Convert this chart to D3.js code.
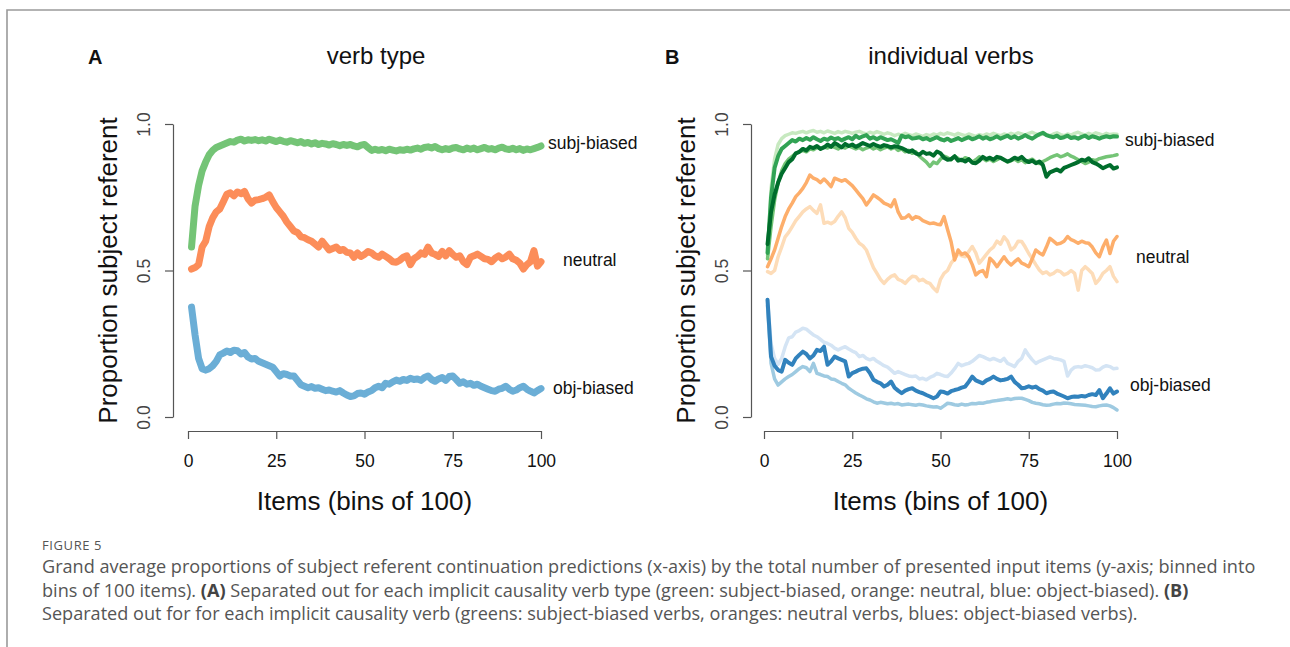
<!DOCTYPE html>
<html><head><meta charset="utf-8">
<script src="https://cdn.jsdelivr.net/npm/d3@7"></script>
<style>body{margin:0;background:#fff}svg{display:block}</style>
</head><body>
<script>
// ---------- DATA ----------
const bins = d3.range(1, 101);
const xTicks = [0, 25, 50, 75, 100];
const yTicks = [0, 0.5, 1];
const seriesLabels = ["subj-biased", "neutral", "obj-biased"];

// Panel A: verb type averages
const aSubj = [0.58,0.72,0.79,0.84,0.87,0.895,0.91,0.92,0.925,0.93,0.935,0.94,0.938,0.945,0.948,0.942,0.946,0.944,0.947,0.943,0.946,0.942,0.948,0.944,0.94,0.945,0.941,0.938,0.943,0.94,0.936,0.94,0.934,0.937,0.932,0.936,0.93,0.934,0.932,0.928,0.933,0.93,0.926,0.93,0.927,0.93,0.925,0.922,0.928,0.93,0.92,0.91,0.914,0.91,0.913,0.909,0.914,0.911,0.908,0.912,0.91,0.914,0.911,0.915,0.918,0.914,0.92,0.922,0.918,0.923,0.916,0.912,0.916,0.913,0.918,0.92,0.915,0.912,0.918,0.914,0.918,0.912,0.916,0.92,0.914,0.916,0.912,0.918,0.921,0.915,0.913,0.917,0.912,0.916,0.91,0.915,0.912,0.916,0.92,0.925];
const aNeut = [0.505,0.51,0.52,0.58,0.6,0.65,0.68,0.7,0.71,0.735,0.76,0.765,0.755,0.768,0.762,0.77,0.745,0.73,0.74,0.742,0.745,0.75,0.758,0.735,0.715,0.7,0.685,0.665,0.65,0.635,0.63,0.615,0.612,0.605,0.6,0.59,0.58,0.6,0.585,0.57,0.575,0.58,0.568,0.572,0.562,0.56,0.545,0.56,0.548,0.555,0.565,0.56,0.55,0.545,0.556,0.548,0.54,0.53,0.528,0.535,0.545,0.55,0.52,0.54,0.548,0.56,0.555,0.58,0.56,0.555,0.548,0.565,0.55,0.568,0.555,0.545,0.55,0.53,0.52,0.545,0.55,0.556,0.548,0.54,0.538,0.53,0.542,0.55,0.54,0.546,0.556,0.54,0.535,0.525,0.505,0.52,0.53,0.568,0.515,0.53];
const aObj = [0.375,0.28,0.2,0.165,0.16,0.165,0.175,0.19,0.212,0.218,0.225,0.22,0.228,0.226,0.215,0.22,0.205,0.198,0.2,0.19,0.185,0.18,0.175,0.17,0.155,0.14,0.148,0.145,0.14,0.14,0.125,0.11,0.105,0.1,0.104,0.098,0.1,0.095,0.09,0.092,0.088,0.085,0.09,0.082,0.075,0.07,0.072,0.08,0.082,0.078,0.085,0.09,0.1,0.105,0.1,0.115,0.112,0.12,0.126,0.122,0.128,0.125,0.132,0.128,0.13,0.125,0.135,0.14,0.128,0.122,0.13,0.135,0.125,0.138,0.14,0.128,0.115,0.12,0.112,0.115,0.108,0.112,0.105,0.1,0.095,0.09,0.088,0.095,0.098,0.105,0.095,0.088,0.092,0.1,0.105,0.095,0.088,0.082,0.09,0.097];

// Panel B: individual verbs
const bSubj1 = [0.55,0.78,0.88,0.93,0.95,0.96,0.965,0.97,0.968,0.972,0.975,0.97,0.975,0.978,0.972,0.975,0.97,0.976,0.972,0.968,0.974,0.97,0.975,0.972,0.968,0.972,0.975,0.97,0.966,0.972,0.968,0.974,0.97,0.965,0.97,0.966,0.96,0.965,0.962,0.968,0.964,0.96,0.966,0.962,0.958,0.964,0.96,0.966,0.962,0.968,0.964,0.97,0.966,0.962,0.968,0.964,0.96,0.966,0.962,0.958,0.964,0.96,0.966,0.962,0.968,0.964,0.96,0.966,0.962,0.968,0.964,0.97,0.966,0.962,0.968,0.972,0.966,0.962,0.968,0.964,0.96,0.966,0.97,0.964,0.96,0.966,0.962,0.968,0.972,0.966,0.962,0.968,0.964,0.97,0.966,0.962,0.968,0.964,0.966,0.965];
const bSubj2 = [0.56,0.75,0.85,0.89,0.915,0.925,0.935,0.945,0.94,0.95,0.945,0.952,0.946,0.955,0.948,0.942,0.95,0.946,0.954,0.948,0.952,0.944,0.95,0.955,0.948,0.96,0.952,0.958,0.962,0.95,0.955,0.948,0.955,0.95,0.945,0.948,0.942,0.935,0.96,0.955,0.958,0.95,0.952,0.955,0.948,0.952,0.945,0.95,0.955,0.948,0.944,0.95,0.942,0.947,0.952,0.945,0.95,0.955,0.948,0.952,0.958,0.95,0.955,0.948,0.952,0.958,0.95,0.955,0.96,0.952,0.958,0.95,0.955,0.962,0.955,0.95,0.958,0.965,0.97,0.962,0.958,0.955,0.96,0.952,0.955,0.96,0.952,0.955,0.95,0.956,0.96,0.952,0.958,0.955,0.95,0.955,0.958,0.955,0.958,0.957];
const bSubj3 = [0.54,0.65,0.74,0.8,0.84,0.865,0.88,0.89,0.9,0.905,0.91,0.905,0.915,0.912,0.92,0.915,0.922,0.918,0.925,0.92,0.915,0.922,0.918,0.925,0.92,0.915,0.92,0.912,0.918,0.922,0.915,0.92,0.912,0.918,0.922,0.915,0.92,0.91,0.915,0.905,0.91,0.9,0.905,0.89,0.88,0.87,0.855,0.87,0.865,0.88,0.89,0.885,0.878,0.89,0.882,0.875,0.885,0.88,0.87,0.878,0.888,0.882,0.875,0.88,0.872,0.878,0.885,0.878,0.87,0.875,0.88,0.872,0.878,0.868,0.875,0.88,0.87,0.865,0.872,0.878,0.885,0.89,0.895,0.888,0.892,0.898,0.89,0.885,0.878,0.872,0.865,0.87,0.878,0.875,0.882,0.885,0.888,0.89,0.892,0.895];
const bSubj4 = [0.59,0.7,0.76,0.8,0.83,0.85,0.87,0.88,0.9,0.905,0.915,0.91,0.922,0.918,0.925,0.915,0.92,0.93,0.922,0.935,0.928,0.92,0.932,0.925,0.93,0.922,0.928,0.935,0.93,0.925,0.932,0.926,0.922,0.928,0.925,0.92,0.924,0.922,0.918,0.912,0.905,0.91,0.9,0.895,0.905,0.898,0.9,0.892,0.906,0.9,0.885,0.878,0.88,0.89,0.875,0.878,0.872,0.88,0.868,0.866,0.875,0.888,0.88,0.885,0.878,0.888,0.885,0.878,0.872,0.877,0.885,0.88,0.888,0.876,0.87,0.875,0.866,0.872,0.86,0.82,0.835,0.84,0.845,0.838,0.85,0.855,0.86,0.865,0.87,0.878,0.875,0.883,0.87,0.865,0.858,0.849,0.855,0.86,0.848,0.852];
const bNeut1 = [0.496,0.49,0.5,0.547,0.58,0.615,0.63,0.65,0.67,0.685,0.7,0.71,0.718,0.705,0.695,0.724,0.661,0.665,0.66,0.667,0.685,0.7,0.68,0.644,0.63,0.61,0.593,0.585,0.57,0.54,0.51,0.49,0.47,0.456,0.47,0.48,0.485,0.47,0.465,0.456,0.47,0.48,0.479,0.465,0.47,0.46,0.456,0.44,0.428,0.47,0.49,0.5,0.525,0.54,0.559,0.55,0.547,0.565,0.582,0.56,0.525,0.54,0.555,0.57,0.58,0.6,0.59,0.615,0.6,0.57,0.58,0.6,0.599,0.58,0.558,0.54,0.52,0.502,0.49,0.495,0.485,0.49,0.5,0.496,0.485,0.49,0.5,0.49,0.433,0.5,0.513,0.502,0.49,0.456,0.47,0.49,0.5,0.513,0.48,0.462];
const bNeut2 = [0.513,0.54,0.57,0.61,0.65,0.684,0.71,0.73,0.752,0.765,0.78,0.8,0.826,0.815,0.81,0.8,0.812,0.8,0.786,0.815,0.81,0.805,0.81,0.8,0.79,0.775,0.76,0.745,0.724,0.74,0.758,0.75,0.741,0.73,0.725,0.718,0.741,0.7,0.678,0.68,0.69,0.675,0.684,0.68,0.67,0.665,0.66,0.662,0.658,0.656,0.684,0.64,0.598,0.536,0.57,0.555,0.56,0.547,0.52,0.485,0.495,0.5,0.479,0.542,0.53,0.513,0.53,0.547,0.53,0.519,0.53,0.54,0.525,0.52,0.513,0.54,0.57,0.56,0.553,0.58,0.61,0.6,0.59,0.593,0.6,0.616,0.605,0.6,0.593,0.6,0.595,0.593,0.58,0.56,0.547,0.58,0.604,0.558,0.6,0.616];
const bObj1 = [0.4,0.25,0.2,0.18,0.2,0.24,0.27,0.274,0.29,0.295,0.303,0.3,0.29,0.28,0.274,0.265,0.255,0.251,0.245,0.235,0.229,0.235,0.24,0.232,0.225,0.22,0.206,0.21,0.2,0.195,0.2,0.19,0.183,0.175,0.17,0.16,0.149,0.155,0.15,0.145,0.14,0.138,0.14,0.13,0.132,0.127,0.135,0.14,0.149,0.145,0.14,0.138,0.15,0.165,0.183,0.175,0.18,0.183,0.19,0.2,0.21,0.206,0.2,0.195,0.2,0.195,0.19,0.2,0.183,0.178,0.172,0.19,0.2,0.229,0.21,0.195,0.183,0.19,0.195,0.2,0.205,0.2,0.198,0.195,0.19,0.14,0.16,0.17,0.172,0.17,0.175,0.172,0.168,0.16,0.161,0.17,0.175,0.172,0.165,0.166];
const bObj2 = [0.38,0.183,0.13,0.109,0.12,0.13,0.138,0.145,0.155,0.165,0.172,0.168,0.155,0.183,0.149,0.145,0.14,0.138,0.13,0.128,0.121,0.115,0.11,0.098,0.09,0.082,0.075,0.069,0.062,0.058,0.052,0.047,0.05,0.048,0.045,0.047,0.044,0.046,0.041,0.043,0.044,0.042,0.04,0.043,0.041,0.038,0.036,0.034,0.035,0.03,0.038,0.047,0.045,0.042,0.04,0.044,0.041,0.043,0.046,0.045,0.048,0.047,0.05,0.052,0.055,0.056,0.058,0.06,0.062,0.06,0.063,0.064,0.064,0.06,0.056,0.05,0.047,0.045,0.042,0.04,0.041,0.044,0.046,0.045,0.048,0.047,0.045,0.043,0.042,0.041,0.04,0.038,0.036,0.035,0.038,0.04,0.041,0.038,0.032,0.024];
const bObj3 = [0.4,0.206,0.175,0.16,0.155,0.195,0.185,0.178,0.2,0.212,0.223,0.215,0.2,0.21,0.229,0.225,0.24,0.178,0.19,0.206,0.2,0.195,0.19,0.138,0.15,0.155,0.161,0.165,0.166,0.15,0.127,0.12,0.115,0.104,0.11,0.121,0.1,0.09,0.081,0.09,0.095,0.098,0.09,0.085,0.081,0.075,0.07,0.064,0.07,0.087,0.085,0.08,0.088,0.092,0.095,0.1,0.104,0.12,0.138,0.125,0.12,0.115,0.125,0.13,0.138,0.13,0.125,0.127,0.13,0.138,0.12,0.11,0.098,0.1,0.105,0.1,0.104,0.095,0.09,0.081,0.085,0.087,0.08,0.075,0.07,0.064,0.068,0.07,0.069,0.072,0.07,0.075,0.078,0.075,0.092,0.064,0.08,0.098,0.08,0.087];

// ---------- DRAW ----------
const W = 1290, H = 647;
const svg = d3.select("body").append("svg").attr("width", W).attr("height", H);
svg.append("rect").attr("width", W).attr("height", H).attr("fill", "#fff");
svg.append("path").attr("d", `M7,${H} V10 H${W}`).attr("fill","none").attr("stroke","#9a9a9a").attr("stroke-width",1.6);

const FONT = "Liberation Sans, Arial, Helvetica, sans-serif";

function panel(opt) {
  const x = d3.scaleLinear().domain([0, 100]).range([opt.x0, opt.x1]);
  const y = d3.scaleLinear().domain([0, 1]).range([417, 124]);
  const g = svg.append("g").attr("font-family", FONT);

  const xa = g.append("g").attr("transform", "translate(0,431)")
    .call(d3.axisBottom(x).tickValues(xTicks).tickSize(8).tickSizeOuter(0).tickPadding(16));
  xa.selectAll("text").attr("font-size", 17.5).attr("font-family", FONT).attr("fill","#111");
  xa.selectAll("line,path").attr("stroke","#555").attr("stroke-width",1.2);

  const ya = g.append("g").attr("transform", `translate(${opt.yAxisX},0)`)
    .call(d3.axisLeft(y).tickValues(yTicks).tickFormat(d3.format(".1f")).tickSize(8).tickSizeOuter(0));
  ya.selectAll("text").attr("font-size", 17.5).attr("font-family", FONT).attr("fill","#444")
    .attr("transform", "rotate(-90)").attr("x", 0).attr("dx", null).attr("y", -29).attr("dy", "0.35em")
    .attr("text-anchor", "middle");
  ya.selectAll("line,path").attr("stroke","#555").attr("stroke-width",1.2);

  g.append("text").attr("x", (opt.x0 + opt.x1) / 2).attr("y", 510).attr("text-anchor","middle")
    .attr("font-size", 26).attr("fill","#111").text("Items (bins of 100)");
  g.append("text").attr("transform", `translate(${opt.yAxisX - 65},${y(0.5)}) rotate(-90)`)
    .attr("text-anchor","middle").attr("dy","0.35em").attr("font-size", 26).attr("fill","#111")
    .text("Proportion subject referent");

  g.append("text").attr("x", opt.letterX).attr("y", 64).attr("font-size", 20).attr("font-weight","bold")
    .attr("fill","#111").text(opt.letter);
  g.append("text").attr("x", opt.titleX).attr("y", 64).attr("text-anchor","middle").attr("font-size", 24)
    .attr("fill","#111").text(opt.title);

  const line = d3.line().x((d, i) => x(bins[i])).y(d => y(d));
  opt.series.forEach(s => {
    g.append("path").datum(s.values).attr("d", line).attr("fill","none")
      .attr("stroke", s.color).attr("stroke-width", s.width)
      .attr("stroke-linejoin","round").attr("stroke-linecap","round");
  });

  opt.labels.forEach((t, i) => {
    g.append("text").attr("x", opt.labelPos[i][0]).attr("y", opt.labelPos[i][1])
      .attr("font-size", 17.5).attr("fill","#111").text(t);
  });
}

panel({
  x0: 188, x1: 541, yAxisX: 173, letter: "A", letterX: 88, title: "verb type", titleX: 376,
  series: [
    {values: aObj, color: "#6baed6", width: 7},
    {values: aNeut, color: "#fc8d59", width: 7},
    {values: aSubj, color: "#74c476", width: 7}
  ],
  labels: seriesLabels, labelPos: [[548,149],[563,266],[553,394]]
});

panel({
  x0: 764, x1: 1117, yAxisX: 751, letter: "B", letterX: 665, title: "individual verbs", titleX: 951,
  series: [
    {values: bObj1, color: "#d4e4f4", width: 3.5},
    {values: bObj2, color: "#9ecae1", width: 3.5},
    {values: bObj3, color: "#3182bd", width: 4},
    {values: bNeut1, color: "#fddcb8", width: 3.5},
    {values: bNeut2, color: "#fdae6b", width: 3.5},
    {values: bSubj1, color: "#c7e9c0", width: 3.5},
    {values: bSubj3, color: "#74c476", width: 3.5},
    {values: bSubj2, color: "#31a354", width: 4},
    {values: bSubj4, color: "#006d2c", width: 4}
  ],
  labels: seriesLabels, labelPos: [[1125,146],[1136,263],[1130,391]]
});

// caption
const cap = svg.append("g").attr("font-family", "Open Sans, Noto Sans, sans-serif").attr("fill", "#555");
cap.append("text").attr("x", 42).attr("y", 550).attr("font-size", 13).attr("letter-spacing", 0.6).text("FIGURE 5");
const capLines = [
  [["Grand average proportions of subject referent continuation predictions (x-axis) by the total number of presented input items (y-axis; binned into", false]],
  [["bins of 100 items). ", false], ["(A)", true], [" Separated out for each implicit causality verb type (green: subject-biased, orange: neutral, blue: object-biased). ", false], ["(B)", true]],
  [["Separated out for for each implicit causality verb (greens: subject-biased verbs, oranges: neutral verbs, blues: object-biased verbs).", false]]
];
capLines.forEach((ln, i) => {
  const t = cap.append("text").attr("x", 42).attr("y", 573 + i * 23.5).attr("font-size", 18.1);
  ln.forEach(([s, b]) => t.append("tspan").attr("font-weight", b ? "bold" : null).attr("fill", b ? "#444" : null).text(s));
});
</script>
</body></html>
